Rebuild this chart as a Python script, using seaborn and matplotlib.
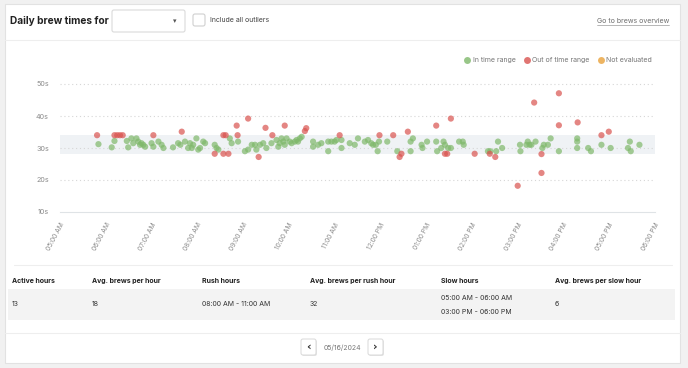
import matplotlib
matplotlib.use("Agg")
import matplotlib.pyplot as plt
import seaborn as sns
import pandas as pd
from matplotlib.patches import Rectangle, FancyBboxPatch
from matplotlib.lines import Line2D

# ---------------- data ----------------
in_range_hours = [5.84, 6.13, 6.19, 6.46, 6.49, 6.56, 6.60, 6.67, 6.71, 6.75, 6.78, 6.82, 6.86,
                  7.00, 7.04, 7.15, 7.22, 7.26, 7.47, 7.58, 7.63, 7.73, 7.80, 7.84, 7.88, 7.91,
                  7.98, 8.02, 8.06, 8.13, 8.17, 8.38, 8.42, 8.46, 8.71, 8.75, 8.89, 9.04, 9.11,
                  9.19, 9.26, 9.29, 9.37, 9.44, 9.51, 9.62, 9.73, 9.77, 9.80, 9.84, 9.88, 9.91,
                  9.95, 10.02, 10.06, 10.13, 10.17, 10.20, 10.24, 10.28, 10.53, 10.53, 10.64,
                  10.71, 10.86, 10.86, 10.93, 11.00, 11.04, 11.15, 11.15, 11.33, 11.44, 11.51,
                  11.66, 11.73, 11.80, 11.84, 11.90, 11.94, 11.97, 12.15, 12.37, 12.66, 12.66,
                  12.71, 12.90, 12.92, 13.02, 13.22, 13.24, 13.33, 13.38, 13.41, 13.48, 13.54,
                  13.72, 13.80, 13.82, 14.35, 14.40, 14.53, 14.57, 14.66, 15.05, 15.06, 15.19,
                  15.22, 15.26, 15.30, 15.39, 15.57, 15.54, 15.66, 15.72, 15.90, 16.30, 16.30,
                  16.30, 16.54, 16.60, 16.83, 17.03, 17.41, 17.45, 17.47, 17.66]
in_range_secs = [31.2, 30.2, 32.2, 32.2, 30.2, 33, 31.5, 33, 32, 31, 31.5, 31, 30.4,
                 31.5, 30.4, 32, 31, 30, 30.2, 31.5, 31, 32, 30, 31.5, 30, 31,
                 33, 29.5, 30, 32, 31.5, 31, 30, 29.5, 33, 31.5, 32, 29, 29.5,
                 31, 31, 29.5, 31, 31.5, 30, 31.5, 32.5, 30.4, 31.5, 33, 32, 31,
                 33, 32, 31.5, 32, 32.5, 32, 33, 33.5, 32, 30.4, 31,
                 31.5, 32, 29, 32, 32, 32.5, 32.5, 30, 31.5, 31, 33,
                 32, 32.5, 31.5, 31, 31, 29, 32, 32, 29, 29, 32,
                 33, 31, 30, 32, 32, 29, 30, 32, 31, 30, 30,
                 32, 32, 31, 29, 29, 29, 32, 30, 31, 29, 31,
                 32, 31, 31, 32, 31, 30, 31, 33, 29, 33, 32,
                 30, 30, 29, 31, 30, 30, 32, 29, 31]
out_range_hours = [5.81, 6.19, 6.25, 6.31, 6.37, 7.04, 7.66, 8.38, 8.57, 8.68, 8.57, 8.62,
                   8.86, 8.88, 9.11, 9.34, 9.49, 9.64, 9.91, 10.35, 10.38, 11.11, 11.98,
                   12.28, 12.42, 12.46, 12.60, 13.22, 13.41, 13.46, 13.54, 14.06, 14.39,
                   14.51, 15.00, 15.36, 15.52, 15.52, 15.90, 15.90, 16.31, 16.83, 16.99]
out_range_secs = [34, 34, 34, 34, 34, 34, 35.1, 28.2, 28.2, 28.2, 34, 34,
                  37, 34, 39.2, 27.2, 36.3, 34, 37, 35.3, 36.2, 34, 34,
                  34, 27.2, 28.2, 35.1, 37, 28.2, 28.2, 39.2, 28.2, 28.2,
                  27.2, 18.2, 44.2, 28.1, 22.2, 47.1, 37.1, 38, 34, 35.1]
status_labels = ["In time range", "Out of time range", "Not evaluated"]
status_colors = ["#7fb86a", "#d9534f", "#e9a23b"]
hour_ticks = list(range(5, 19))
hour_labels = ["05:00 AM", "06:00 AM", "07:00 AM", "08:00 AM", "09:00 AM", "10:00 AM",
               "11:00 AM", "12:00 PM", "01:00 PM", "02:00 PM", "03:00 PM", "04:00 PM",
               "05:00 PM", "06:00 PM"]
sec_ticks = [10, 20, 30, 40, 50]
sec_labels = ["10s", "20s", "30s", "40s", "50s"]
target_band = (28, 34)
table_headers = ["Active hours", "Avg. brews per hour", "Rush hours",
                 "Avg. brews per rush hour", "Slow hours", "Avg. brews per slow hour"]
table_values = ["13", "18", "08:00 AM - 11:00 AM", "32",
                "05:00 AM - 06:00 AM\n03:00 PM - 06:00 PM", "6"]
date_label = "05/16/2024"
title_text = "Daily brew times for"
outlier_text = "Include all outliers"
link_text = "Go to brews overview"

df = pd.DataFrame({
    "hour": in_range_hours + out_range_hours,
    "sec": in_range_secs + out_range_secs,
    "status": [status_labels[0]] * len(in_range_hours) + [status_labels[1]] * len(out_range_hours),
})

# ---------------- figure ----------------
sns.set_theme(style="white")
plt.rcParams["font.family"] = ["Inter", "DejaVu Sans"]

W, H = 688, 368
fig = plt.figure(figsize=(W / 100, H / 100), dpi=100)
fig.patch.set_facecolor("#f1f1f1")

bg = fig.add_axes([0, 0, 1, 1])
bg.set_xlim(0, W)
bg.set_ylim(H, 0)
bg.axis("off")

# card
bg.add_patch(Rectangle((5, 4), 675, 359, facecolor="white", edgecolor="#e2e2e2", lw=0.8))
# separators
bg.plot([5, 680], [40, 40], color="#eeeeee", lw=0.8)
bg.plot([14, 672], [265, 265], color="#eeeeee", lw=0.8)
bg.plot([5, 680], [333, 333], color="#eeeeee", lw=0.8)

# header
txt = "#222222"
bg.text(10, 21, title_text, fontsize=7.3, fontweight="bold", color=txt, va="center")
bg.add_patch(FancyBboxPatch((112, 10), 73, 22, boxstyle="round,pad=0,rounding_size=2",
                            facecolor="white", edgecolor="#dadada", lw=0.8))
bg.text(175, 21, "\u25BE", fontsize=5, color="#555555", ha="center", va="center",
        family=["DejaVu Sans"])
bg.add_patch(FancyBboxPatch((193, 14), 12, 12, boxstyle="round,pad=0,rounding_size=2",
                            facecolor="white", edgecolor="#d0d0d0", lw=0.8))
bg.text(210, 20, outlier_text, fontsize=5, color="#444444", va="center")
bg.text(669, 21, link_text, fontsize=5, color="#6e6e6e", va="center", ha="right")
bg.plot([597, 669], [24.5, 24.5], color="#9a9a9a", lw=0.5)

# table
col_x = [12, 92, 202, 310, 441, 555]
bg.add_patch(Rectangle((8, 289), 667, 31, facecolor="#f3f3f3", edgecolor="none"))
for x, h_txt, v_txt in zip(col_x, table_headers, table_values):
    bg.text(x, 281, h_txt, fontsize=5, fontweight="bold", color="#222222", va="center")
    if "\n" in v_txt:
        a, b = v_txt.split("\n")
        bg.text(x, 297.5, a, fontsize=5, color="#333333", va="center")
        bg.text(x, 311.5, b, fontsize=5, color="#333333", va="center")
    else:
        bg.text(x, 304.5, v_txt, fontsize=5, color="#333333", va="center")

# pager
for bx, sym in [(301, "\u2039"), (368, "\u203A")]:
    bg.add_patch(FancyBboxPatch((bx + 1, 340), 15, 16, boxstyle="round,pad=0,rounding_size=2",
                                facecolor="#e6e6e6", edgecolor="none"))
    bg.add_patch(FancyBboxPatch((bx, 339), 15, 16, boxstyle="round,pad=0,rounding_size=2",
                                facecolor="white", edgecolor="#d8d8d8", lw=0.7))
    bg.text(bx + 7.5, 347, sym, fontsize=8, fontweight="bold", color="#333333",
            ha="center", va="center", family=["DejaVu Sans"])
bg.text(342, 347.5, date_label, fontsize=5, color="#777777", ha="center", va="center")

# ---------------- chart ----------------
y_lo, y_hi = 10, 52
px_per_sec = 3.2
ax_top = 212 - (y_hi - y_lo) * px_per_sec
ax = fig.add_axes([60 / W, 1 - 212 / H, 595 / W, (212 - ax_top) / H])
ax.patch.set_alpha(0)
ax.set_xlim(5, 18)
ax.set_ylim(y_lo, y_hi)

ax.axhspan(target_band[0], target_band[1], color="#eff2f5", zorder=0, lw=0)
for yv in sec_ticks[1:]:
    ax.axhline(yv, color="#d6d6d6", lw=0.8, ls=(0, (1, 2.5)), zorder=0.5)

palette = dict(zip(status_labels, status_colors))
sns.scatterplot(data=df, x="hour", y="sec", hue="status", palette=palette, s=20,
                alpha=0.7, edgecolor="none", linewidth=0, legend=False, ax=ax, zorder=3)

for s in ["top", "right", "left"]:
    ax.spines[s].set_visible(False)
ax.spines["bottom"].set_color("#dfe3e6")
ax.spines["bottom"].set_linewidth(0.8)

ax.set_xticks(hour_ticks)
ax.set_xticklabels(hour_labels, rotation=62, ha="right", rotation_mode="anchor",
                   fontsize=4.8, color="#8a8a8a")
ax.tick_params(axis="x", length=3, width=0.6, color="#d8dde0", pad=4)
ax.set_yticks(sec_ticks)
ax.set_yticklabels(sec_labels, fontsize=5.2, color="#8a8a8a")
ax.tick_params(axis="y", length=0, pad=8)
ax.set_xlabel("")
ax.set_ylabel("")

handles = [Line2D([0], [0], marker="o", ls="none", markersize=5, markerfacecolor=c,
                  markeredgecolor="none", alpha=0.8) for c in status_colors]
fig.legend(handles, status_labels, loc="center right", bbox_to_anchor=(652 / W, 1 - 60 / H),
           ncol=3, frameon=False, fontsize=5, handletextpad=0.3, columnspacing=1.1,
           handlelength=1.0, labelcolor="#777777", borderaxespad=0, borderpad=0)

fig.savefig("out.png", dpi=100, facecolor=fig.get_facecolor())
